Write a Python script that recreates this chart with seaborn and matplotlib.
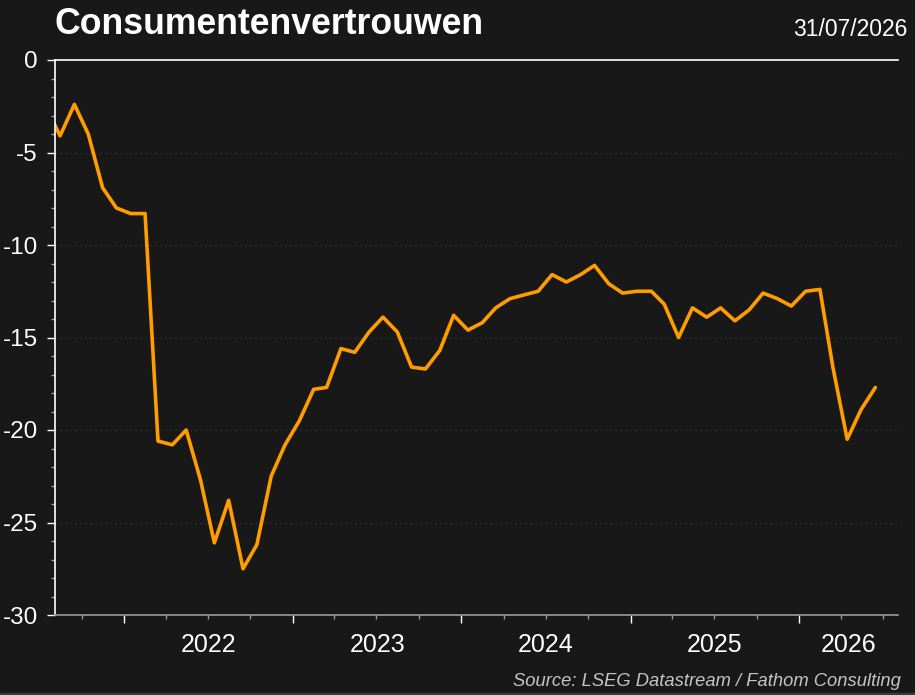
import pandas as pd
import matplotlib
matplotlib.use('Agg')
import matplotlib.pyplot as plt
import matplotlib.dates as mdates
import matplotlib.transforms as mtransforms
import seaborn as sns

# monthly consumer confidence, Jul 2021 - Jun 2026
months = pd.date_range('2021-07-01', '2026-06-01', freq='MS') + pd.Timedelta(days=14)
values = [-2.5, -4.1, -2.4, -4.0, -6.9, -8.0,
          -8.3, -8.3, -20.6, -20.8, -20.0, -22.7, -26.1, -23.8, -27.5, -26.2, -22.5, -20.8,
          -19.5, -17.8, -17.7, -15.6, -15.8, -14.7, -13.9, -14.7, -16.6, -16.7, -15.7, -13.8,
          -14.6, -14.2, -13.4, -12.9, -12.7, -12.5, -11.6, -12.0, -11.6, -11.1, -12.1, -12.6,
          -12.5, -12.5, -13.2, -15.0, -13.4, -13.9, -13.4, -14.1, -13.5, -12.6, -12.9, -13.3,
          -12.5, -12.4, -16.6, -20.5, -18.9, -17.7]
years = [2022, 2023, 2024, 2025, 2026]
y_ticks = [0, -5, -10, -15, -20, -25, -30]

title = 'Consumentenvertrouwen'
date_label = '31/07/2026'
source = 'Source: LSEG Datastream / Fathom Consulting'

bg = '#181818'
sns.set_style('dark', {'axes.facecolor': bg, 'figure.facecolor': bg})
plt.rcParams['font.family'] = ['Liberation Sans', 'DejaVu Sans']

df = pd.DataFrame({'date': months, 'value': values})

fig = plt.figure(figsize=(9.15, 6.95), dpi=100)
ax = fig.add_axes([55 / 915, 1 - 615 / 695, (898 - 55) / 915, (615 - 60) / 695])
sns.lineplot(data=df, x='date', y='value', ax=ax, color='#ff9c00', linewidth=2.6)

x0, x1 = pd.Timestamp('2021-08-04'), pd.Timestamp('2026-08-03')
ax.set_xlim(x0, x1)
ax.set_ylim(-30, 0)
ax.set_xlabel('')
ax.set_ylabel('')

# y axis
ax.set_yticks(y_ticks)
ax.set_yticklabels([str(v) for v in y_ticks])
ax.yaxis.set_minor_locator(matplotlib.ticker.MultipleLocator(1))
ax.tick_params(axis='y', which='major', length=6, width=1, color='white', labelcolor='white',
               labelsize=17.5, pad=6.5, left=True)
ax.tick_params(axis='y', which='minor', length=3, width=1, color='#9a9a9a', left=True)
ax.yaxis.grid(True, which='major', linestyle=(0, (1, 3)), color='#3a3a3a', linewidth=0.9)

# x axis: year starts as major ticks, quarters as minor, labels in middle of visible year
ax.xaxis.set_major_locator(mdates.YearLocator())
ax.xaxis.set_major_formatter(matplotlib.ticker.NullFormatter())
ax.xaxis.set_minor_locator(mdates.MonthLocator(bymonth=[1, 4, 7, 10]))
ax.tick_params(axis='x', which='major', length=6, width=1, color='white', bottom=True)
ax.tick_params(axis='x', which='minor', length=3, width=1, color='#9a9a9a', bottom=True)
ax.xaxis.grid(False)

trans = mtransforms.blended_transform_factory(ax.transData, ax.transAxes)
for yr in years:
    a = max(pd.Timestamp(f'{yr}-01-01'), x0)
    b = min(pd.Timestamp(f'{yr + 1}-01-01'), x1)
    mid = a + (b - a) / 2
    ax.text(mdates.date2num(mid), -0.033, str(yr), transform=trans, ha='center', va='top',
            fontsize=18, color='white')

for side in ['top', 'left']:
    ax.spines[side].set_color('white')
    ax.spines[side].set_linewidth(1.2)
ax.spines['bottom'].set_color('#9a9a9a')
ax.spines['bottom'].set_linewidth(1.2)
ax.spines['right'].set_visible(False)

fig.text(55 / 915, 1 - 33.5 / 695, title, fontsize=25.7, fontweight='bold', color='white',
         ha='left', va='baseline')
fig.text(907 / 915, 1 - 35.5 / 695, date_label, fontsize=16.5, color='white',
         ha='right', va='baseline')
fig.text(901 / 915, 1 - 686 / 695, source, fontsize=13.2, color='#c4c4c4', style='italic',
         ha='right', va='baseline')

fig.patches.append(plt.Rectangle((0, 0), 1, 2.5 / 695, transform=fig.transFigure,
                                 color='#3a3a3a', zorder=0))

fig.savefig('out.png', dpi=100, facecolor=bg)
